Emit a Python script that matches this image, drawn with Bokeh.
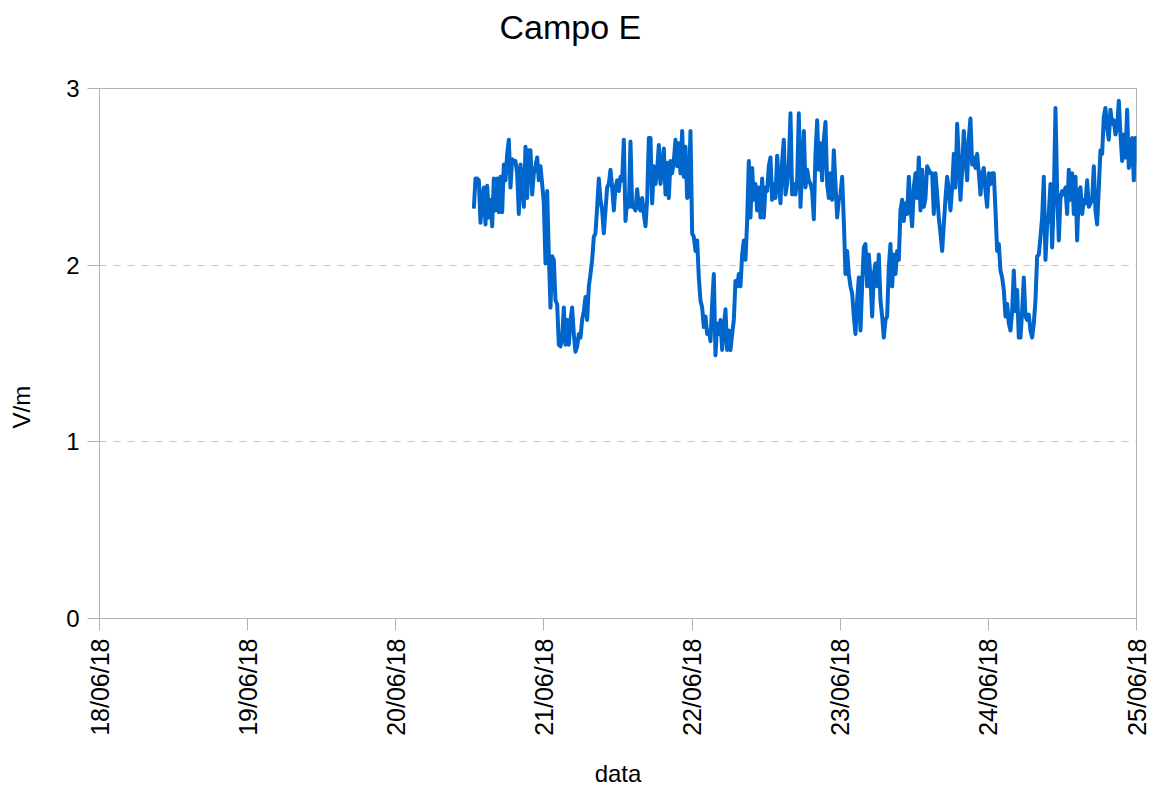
from math import pi

import pandas as pd
from bokeh.embed import file_html
from bokeh.models import (ColumnDataSource, DatetimeTickFormatter, FixedTicker,
                          Range1d, Title)
from bokeh.plotting import figure
from bokeh.resources import INLINE

# ---------------- data ----------------
title_text = "Campo E"
x_label = "data"
y_label = "V/m"
y_ticks = [0, 1, 2, 3]
day_ticks = ["2018-06-18", "2018-06-19", "2018-06-20", "2018-06-21",
             "2018-06-22", "2018-06-23", "2018-06-24", "2018-06-25"]
x_start = "2018-06-18"
x_end = "2018-06-25"

series_start = "2018-06-20 12:38:36"
sample_interval_s = 972

# 20/06 afternoon -> 22/06 morning
campo_e_part1 = [
    2.32, 2.49, 2.49, 2.48, 2.24, 2.38, 2.44, 2.23, 2.45, 2.27,
    2.37, 2.22, 2.49, 2.31, 2.49, 2.30, 2.50, 2.30, 2.57, 2.48,
    2.63, 2.71, 2.44, 2.60, 2.59, 2.59, 2.52, 2.29, 2.57, 2.46,
    2.33, 2.67, 2.38, 2.65, 2.65, 2.40, 2.52, 2.56, 2.61, 2.48,
    2.56, 2.46, 2.35, 2.01, 2.42, 2.06, 1.76, 2.05, 2.03, 1.80,
    1.78, 1.55, 1.54, 1.59, 1.76, 1.55, 1.69, 1.55, 1.69, 1.76,
    1.61, 1.51, 1.54, 1.61, 1.59, 1.69, 1.74, 1.82, 1.69, 1.88,
    1.95, 2.03, 2.16, 2.18, 2.33, 2.49, 2.37, 2.31, 2.18, 2.31,
    2.44, 2.46, 2.54, 2.44, 2.31, 2.44, 2.48, 2.42, 2.50, 2.48,
    2.71, 2.25, 2.37, 2.33, 2.70, 2.33, 2.33, 2.31, 2.43, 2.33,
    2.31, 2.38, 2.29, 2.22, 2.37, 2.72, 2.72, 2.35, 2.56, 2.46,
    2.54, 2.68, 2.46, 2.56, 2.66, 2.40, 2.58, 2.38, 2.59, 2.52,
    2.59, 2.71, 2.56, 2.69, 2.52, 2.76, 2.50, 2.67, 2.38, 2.40,
    2.76, 2.18, 2.16, 2.08, 2.14, 1.93,
]
# 22/06 -> 23/06 evening
campo_e_part2 = [
    1.80,
    1.76, 1.65, 1.71, 1.61, 1.63, 1.57, 1.78, 1.95, 1.49, 1.67,
    1.61, 1.69, 1.52, 1.65, 1.75, 1.52, 1.63, 1.52, 1.61, 1.69,
    1.91, 1.88, 1.95, 1.88, 2.06, 2.14, 2.03, 2.25, 2.59, 2.27,
    2.55, 2.37, 2.46, 2.31, 2.44, 2.27, 2.49, 2.27, 2.44, 2.42,
    2.56, 2.61, 2.37, 2.46, 2.38, 2.62, 2.48, 2.35, 2.59, 2.71,
    2.40, 2.46, 2.57, 2.86, 2.40, 2.46, 2.40, 2.48, 2.86, 2.33,
    2.56, 2.76, 2.44, 2.54, 2.48, 2.46, 2.42, 2.26, 2.63, 2.82,
    2.54, 2.69, 2.48, 2.71, 2.81, 2.46, 2.38, 2.52, 2.37, 2.65,
    2.46, 2.27, 2.37, 2.40, 2.50, 2.25, 1.95, 2.08, 1.95, 1.88,
    1.84, 1.71, 1.61, 1.80, 1.93, 1.63, 1.89, 2.10, 2.12, 1.88,
    2.06, 1.93, 1.71, 1.95, 2.01, 1.88, 2.06, 1.80, 1.71, 1.59,
    1.69, 1.71, 1.99, 2.12, 1.88, 2.06, 1.95, 2.08, 2.03, 2.31,
]
# 23/06 evening -> 25/06
campo_e_part3 = [
    2.37, 2.25, 2.35, 2.29, 2.50, 2.33, 2.22, 2.44, 2.52, 2.38,
    2.61, 2.31, 2.54, 2.33, 2.38, 2.56, 2.54, 2.52, 2.52, 2.29,
    2.52, 2.40, 2.27, 2.18, 2.08, 2.23, 2.38, 2.50, 2.42, 2.31,
    2.44, 2.63, 2.44, 2.80, 2.61, 2.37, 2.54, 2.76, 2.61, 2.48,
    2.72, 2.83, 2.57, 2.61, 2.55, 2.63, 2.52, 2.40, 2.52, 2.55,
    2.42, 2.33, 2.52, 2.46, 2.52, 2.52, 2.31, 2.08, 2.12, 1.97,
    1.93, 1.86, 1.71, 1.78, 1.67, 1.63, 1.74, 1.97, 1.74, 1.86,
    1.59, 1.59, 1.74, 1.93, 1.71, 1.69, 1.72, 1.63, 1.59, 1.67,
    1.80, 2.05, 2.06, 2.16, 2.27, 2.50, 2.03, 2.23, 2.29, 2.46,
    2.10, 2.38, 2.89, 2.42, 2.14, 2.38, 2.42, 2.40, 2.44, 2.29,
    2.54, 2.37, 2.52, 2.29, 2.50, 2.14, 2.42, 2.44, 2.29, 2.37,
    2.35, 2.48, 2.33, 2.35, 2.37, 2.56, 2.31, 2.23, 2.44, 2.65,
    2.63, 2.84, 2.89, 2.78, 2.71, 2.88, 2.80, 2.82, 2.74, 2.78,
    2.93, 2.74, 2.59, 2.74, 2.61, 2.88, 2.55, 2.61, 2.72, 2.48,
    2.72, 2.58,
]

campo_e = campo_e_part1 + campo_e_part2 + campo_e_part3
times = pd.date_range(start=series_start, periods=len(campo_e),
                      freq=f"{sample_interval_s}s")
source = ColumnDataSource(data=dict(t=times, v=campo_e))

# ---------------- figure ----------------
FONT = "Liberation Sans"
GREY = "#b3b3b3"

p = figure(width=1153, height=789, output_backend="svg", toolbar_location=None,
           x_axis_type="datetime",
           x_range=Range1d(pd.Timestamp(x_start), pd.Timestamp(x_end)),
           y_range=Range1d(0, 3),
           min_border_left=99, min_border_right=17,
           min_border_top=88, min_border_bottom=171)
p.background_fill_color = "white"
p.border_fill_color = "white"
p.outline_line_color = GREY
p.outline_line_width = 1

p.line(x="t", y="v", source=source, line_color="#0066cc", line_width=4,
       line_join="round")


def spacer(gap):
    # invisible panel that only pushes the next title away from the plot
    return Title(text=" ", text_font_size="1px", text_color="white",
                 standoff=gap)


# chart title (spacer nearest to the frame, title beyond it)
p.add_layout(spacer(39), "above")
p.add_layout(Title(text=title_text, align="left", offset=400, text_font=FONT,
                   text_font_size="34px", text_font_style="normal",
                   text_color="black", standoff=2), "above")

# y-axis title, placed off-centre like the reference
p.add_layout(spacer(25), "left")
p.add_layout(Title(text=y_label, align="left", offset=190, text_font=FONT,
                   text_font_size="24px", text_font_style="normal",
                   text_color="black", standoff=2), "left")

# axes
p.yaxis.ticker = FixedTicker(ticks=y_ticks)
p.xaxis.ticker = FixedTicker(ticks=[pd.Timestamp(d).value // 10**6 for d in day_ticks])
p.xaxis.formatter = DatetimeTickFormatter(days="%d/%m/%y", months="%d/%m/%y",
                                          hours="%d/%m/%y")
p.xaxis.major_label_orientation = pi / 2
for ax in (p.xaxis, p.yaxis):
    ax.axis_line_color = GREY
    ax.major_tick_line_color = GREY
    ax.major_tick_out = 12
    ax.major_tick_in = 0
    ax.minor_tick_line_color = None
    ax.major_label_text_font = FONT
    ax.major_label_text_color = "black"
    ax.major_label_standoff = 8
p.yaxis.major_label_text_font_size = "24px"
p.xaxis.major_label_text_font_size = "25px"

p.xaxis.axis_label = x_label
p.xaxis.axis_label_text_font = FONT
p.xaxis.axis_label_text_font_size = "24px"
p.xaxis.axis_label_text_font_style = "normal"
p.xaxis.axis_label_text_color = "black"
p.xaxis.axis_label_standoff = 21

p.xgrid.visible = False
p.ygrid.grid_line_color = "#c8c8c8"
p.ygrid.grid_line_dash = "7 7"

open("out.html", "w").write(file_html(p, INLINE))
